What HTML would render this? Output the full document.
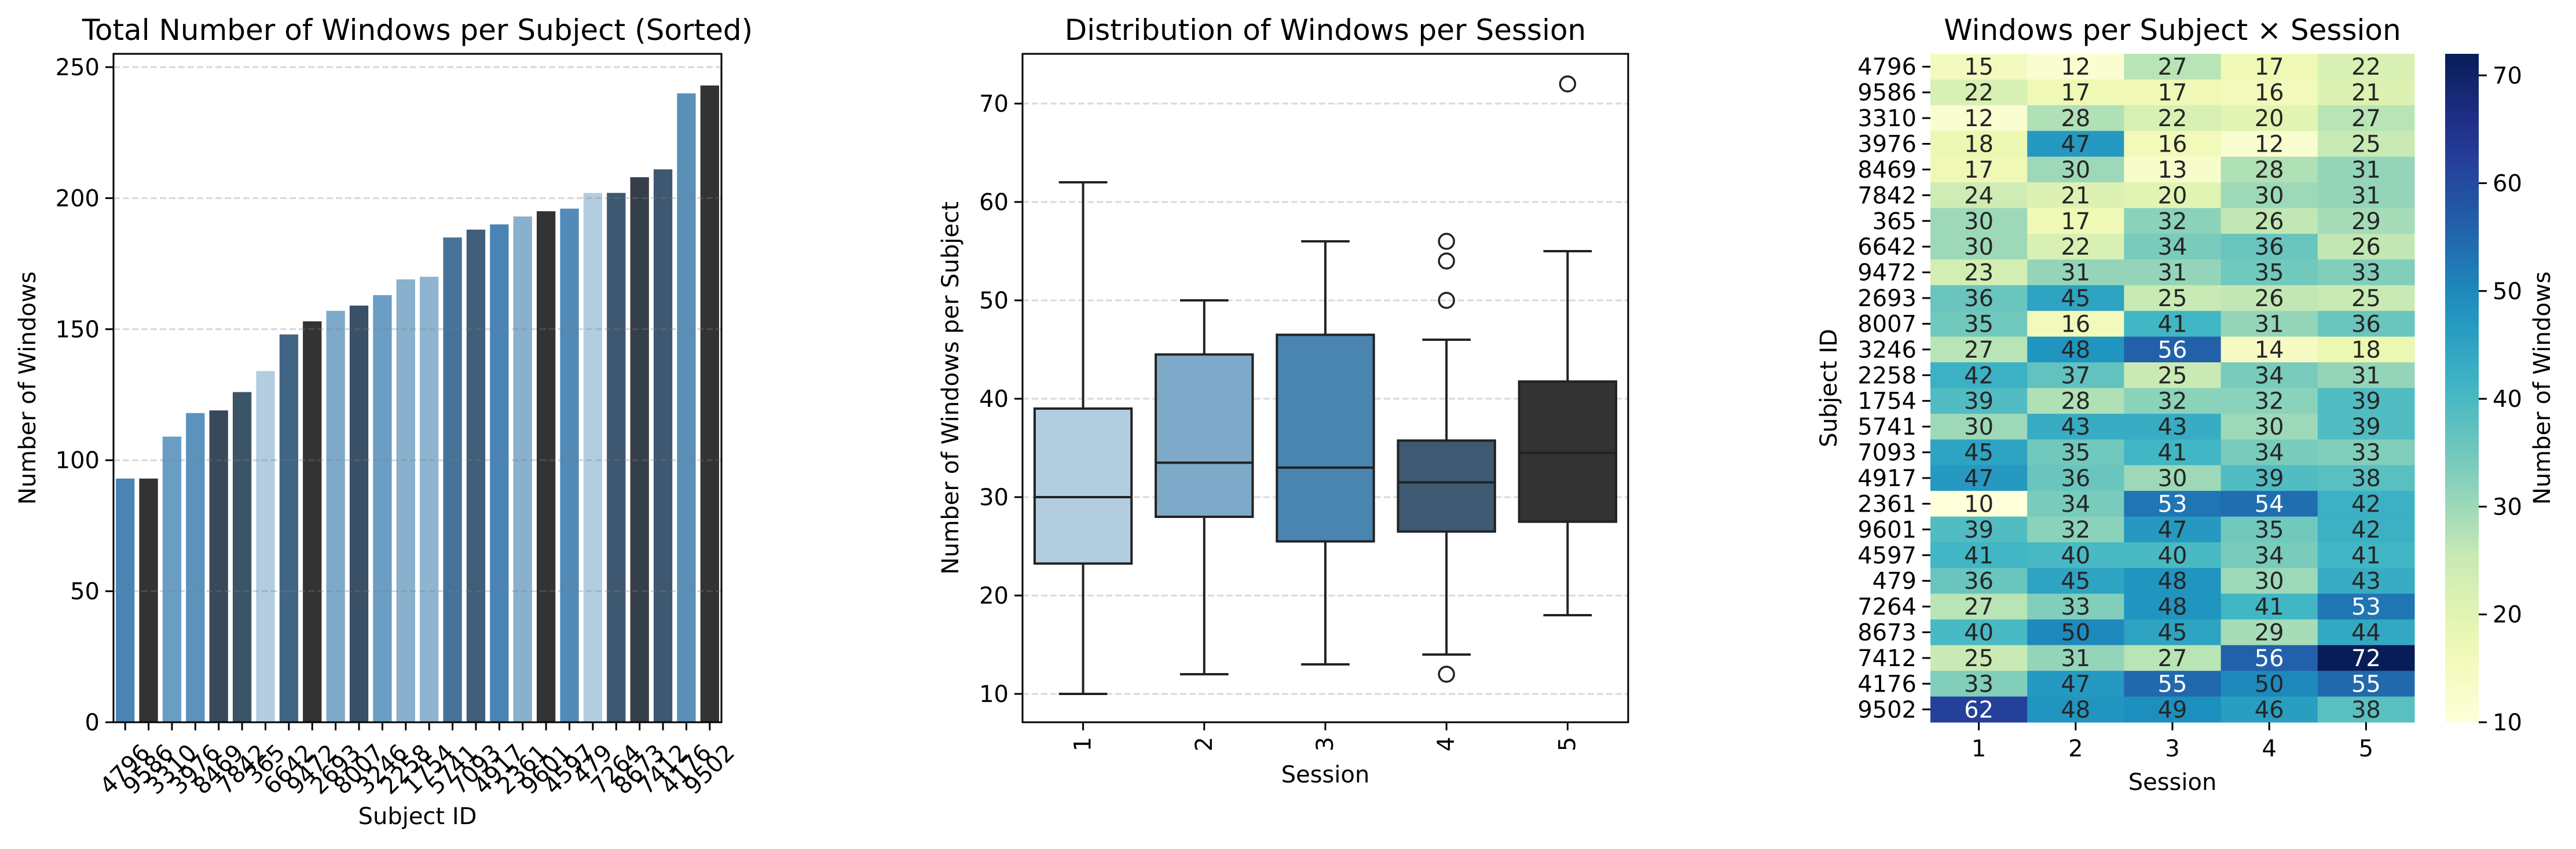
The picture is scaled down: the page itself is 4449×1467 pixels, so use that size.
<!DOCTYPE html>
<html><head><meta charset="utf-8"><style>
html,body{margin:0;padding:0;background:#fff;}
svg{display:block;font-family:"DejaVu Sans","Liberation Sans",sans-serif;}
</style></head><body>
<svg id="fig" xmlns="http://www.w3.org/2000/svg" width="4449" height="1467" viewBox="0 0 4449 1467">
<rect width="4449" height="1467" fill="#fff"/>
<g id="bar-chart"></g>
<g id="box-chart"></g>
<g id="heat-chart"></g>
</svg>
<script>
// ---------- Data ----------
const subjects = ["4796","9586","3310","3976","8469","7842","365","6642","9472","2693","8007","3246","2258","1754","5741","7093","4917","2361","9601","4597","479","7264","8673","7412","4176","9502"];
const totals = [93,93,109,118,119,126,134,148,153,157,159,163,169,170,185,188,190,193,195,196,202,202,208,211,240,243];
const barColors = ["#4a84b4","#333333","#6a9dc4","#5a93bc","#37495a","#3b5568","#b3cde0","#416585","#333333","#7ea9c9","#395066","#6b9ec4","#89b0cc","#8fb4d0","#457298","#3f5e79","#4a84b4","#89b0cc","#333333","#528ab8","#b3cde0","#3d5870","#363f49","#3d5870","#5a90b8","#333333"];
const barTicks = [0,50,100,150,200,250];

const sessions = ["1","2","3","4","5"];
const boxQ1 = [23.25,28,25.5,26.5,27.5];
const boxMedian = [30,33.5,33,31.5,34.5];
const boxQ3 = [39,44.5,46.5,35.75,41.75];
const whiskerLow = [10,12,13,14,18];
const whiskerHigh = [62,50,56,46,55];
const outliers = [[],[],[],[56,54,50,12],[72]];
const boxColors = ["#b3cde0","#7fa9c8","#4a84b0","#3d5a72","#333333"];
const boxTicks = [10,20,30,40,50,60,70];

const heatValues = [
[15,12,27,17,22],[22,17,17,16,21],[12,28,22,20,27],[18,47,16,12,25],[17,30,13,28,31],
[24,21,20,30,31],[30,17,32,26,29],[30,22,34,36,26],[23,31,31,35,33],[36,45,25,26,25],
[35,16,41,31,36],[27,48,56,14,18],[42,37,25,34,31],[39,28,32,32,39],[30,43,43,30,39],
[45,35,41,34,33],[47,36,30,39,38],[10,34,53,54,42],[39,32,47,35,42],[41,40,40,34,41],
[36,45,48,30,43],[27,33,48,41,53],[40,50,45,29,44],[25,31,27,56,72],[33,47,55,50,55],
[62,48,49,46,38]];
const cbarTicks = [10,20,30,40,50,60,70];

// ---------- helpers ----------
const NS="http://www.w3.org/2000/svg";
function mk(parent, tag, attrs, text){
  const e=document.createElementNS(NS,tag);
  for(const k in attrs) e.setAttribute(k,attrs[k]);
  if(text!==undefined) e.textContent=text;
  parent.appendChild(e); return e;
}
const FS=40;

// ---------- Bar chart ----------
(function(){
  const g=document.getElementById('bar-chart');
  const L=196,R=1246,T=93,B=1248;
  const yMax=(B-T)/((B-116)/250);
  const y=v=>B-(v/yMax)*(B-T);
  const bw=(R-L)/subjects.length;
  const x=i=>L+bw*(i+0.5);
  // grid
  barTicks.forEach(t=>{
    const tk=mk(g,'line',{x1:L-14,x2:L,y1:y(t),y2:y(t),stroke:'#000','stroke-width':3});
    
    
    const lb=mk(g,'text',{x:L-24,y:y(t)+14,'font-size':FS,'text-anchor':'end',fill:'#000'},String(t));
    
    
  });
  subjects.forEach((s,i)=>{
    const r=mk(g,'rect',{x:x(i)-bw*0.4,y:y(totals[i]),width:bw*0.8,height:B-y(totals[i]),fill:barColors[i]});
    
    
    const tk=mk(g,'line',{x1:x(i),x2:x(i),y1:B,y2:B+14,stroke:'#000','stroke-width':3});
    
    
    const w=s.length*25.5, h=30;
    const half=(w*0.707+h*0.707)/2;
    const cy=1283+half, cx=x(i);
    const lb=mk(g,'text',{x:cx,y:cy,'font-size':FS,'text-anchor':'middle','dominant-baseline':'central',transform:`rotate(-45 ${cx} ${cy})`},s);
    
    
  });
  barTicks.forEach(t=>{
    const gl=mk(g,'line',{x1:L,x2:R,y1:y(t),y2:y(t),stroke:'rgba(128,128,128,0.32)','stroke-width':3,'stroke-dasharray':'11,5'});
    
    
  });
  const fr=mk(g,'rect',{x:L,y:T,width:R-L,height:B-T,fill:'none',stroke:'#000','stroke-width':3});
  
  
  const ti=mk(g,'text',{x:(L+R)/2,y:69,'font-size':50,'text-anchor':'middle'},'Total Number of Windows per Subject (Sorted)');
  
  
  const xl=mk(g,'text',{x:(L+R)/2,y:1424,'font-size':FS,'text-anchor':'middle'},'Subject ID');
  
  
  const yl=mk(g,'text',{x:0,y:0,'font-size':FS,'text-anchor':'middle',transform:`translate(61 ${(T+B)/2}) rotate(-90)`},'Number of Windows');
  
  
})();

// ---------- Box chart ----------
(function(){
  const g=document.getElementById('box-chart');
  const L=1766,R=2812,T=93,B=1248;
  const per=170/10; // px per unit
  const y=v=>179-(v-70)*per;
  const bw=(R-L)/sessions.length;
  const x=i=>L+bw*(i+0.5);
  boxTicks.forEach(t=>{
    const gl=mk(g,'line',{x1:L,x2:R,y1:y(t),y2:y(t),stroke:'#d9d9d9','stroke-width':3,'stroke-dasharray':'11,5'});
    
    
    const tk=mk(g,'line',{x1:L-14,x2:L,y1:y(t),y2:y(t),stroke:'#000','stroke-width':3});
    
    
    const lb=mk(g,'text',{x:L-24,y:y(t)+14,'font-size':FS,'text-anchor':'end'},String(t));
    
    
  });
  sessions.forEach((s,i)=>{
    const cx=x(i), hw=bw*0.4, cw=bw*0.2;
    const st={stroke:'#222','stroke-width':4};
    const w1=mk(g,'line',Object.assign({x1:cx,x2:cx,y1:y(boxQ3[i]),y2:y(whiskerHigh[i])},st));
    
    
    const w2=mk(g,'line',Object.assign({x1:cx,x2:cx,y1:y(boxQ1[i]),y2:y(whiskerLow[i])},st));
    
    
    const c1=mk(g,'line',Object.assign({x1:cx-cw,x2:cx+cw,y1:y(whiskerHigh[i]),y2:y(whiskerHigh[i])},st));
    
    
    const c2=mk(g,'line',Object.assign({x1:cx-cw,x2:cx+cw,y1:y(whiskerLow[i]),y2:y(whiskerLow[i])},st));
    
    
    const bx=mk(g,'rect',Object.assign({x:cx-hw,y:y(boxQ3[i]),width:2*hw,height:y(boxQ1[i])-y(boxQ3[i]),fill:boxColors[i]},st));
    
    
    const md=mk(g,'line',Object.assign({x1:cx-hw,x2:cx+hw,y1:y(boxMedian[i]),y2:y(boxMedian[i])},st));
    
    
    outliers[i].forEach(o=>{
      const c=mk(g,'circle',{cx:cx,cy:y(o),r:13,fill:'none',stroke:'#222','stroke-width':3.5});
      
      
    });
    const tk=mk(g,'line',{x1:cx,x2:cx,y1:B,y2:B+14,stroke:'#000','stroke-width':3});
    
    
    const lb=mk(g,'text',{x:0,y:0,'font-size':FS,'text-anchor':'end','dominant-baseline':'central',transform:`translate(${cx} 1273) rotate(-90)`},s);
    
    
  });
  const fr=mk(g,'rect',{x:L,y:T,width:R-L,height:B-T,fill:'none',stroke:'#000','stroke-width':3});
  
  
  const ti=mk(g,'text',{x:(L+R)/2,y:69,'font-size':50,'text-anchor':'middle'},'Distribution of Windows per Session');
  
  
  const xl=mk(g,'text',{x:(L+R)/2,y:1352,'font-size':FS,'text-anchor':'middle'},'Session');
  
  
  const yl=mk(g,'text',{x:0,y:0,'font-size':FS,'text-anchor':'middle',transform:`translate(1655 ${(T+B)/2}) rotate(-90)`},'Number of Windows per Subject');
  
  
})();

// ---------- Heatmap ----------
(function(){
  const g=document.getElementById('heat-chart');
  const L=3334,R=4170,T=93,B=1248;
  const vmin=10,vmax=72;
  const stops=["#ffffd9","#edf8b1","#c7e9b4","#7fcdbb","#41b6c4","#1d91c0","#225ea8","#253494","#081d58"].map(h=>[parseInt(h.substr(1,2),16),parseInt(h.substr(3,2),16),parseInt(h.substr(5,2),16)]);
  function cmap(v){
    let t=(v-vmin)/(vmax-vmin); t=Math.max(0,Math.min(1,t));
    const p=t*8, i=Math.min(7,Math.floor(p)), f=p-i;
    const c=stops[i].map((a,k)=>Math.round(a+(stops[i+1][k]-a)*f));
    return c;
  }
  const rgb=c=>`rgb(${c[0]},${c[1]},${c[2]})`;
  const cw=(R-L)/sessions.length, rh=(B-T)/subjects.length;
  heatValues.forEach((row,r)=>{
    row.forEach((v,c)=>{
      const col=cmap(v);
      const cell=mk(g,'rect',{x:L+c*cw,y:T+r*rh,width:cw+0.5,height:rh+0.5,fill:rgb(col)});
      
      
      const lum=(0.2126*col[0]+0.7152*col[1]+0.0722*col[2])/255;
      const t=mk(g,'text',{x:L+(c+0.5)*cw,y:T+(r+0.5)*rh+14,'font-size':FS,'text-anchor':'middle',fill:lum>0.42?'#262626':'#ffffff'},String(v));
      
      
    });
    const yc=T+(r+0.5)*rh;
    const tk=mk(g,'line',{x1:L-14,x2:L,y1:yc,y2:yc,stroke:'#000','stroke-width':3});
    
    
    const lb=mk(g,'text',{x:L-24,y:yc+14,'font-size':FS,'text-anchor':'end'},subjects[r]);
    
    
  });
  sessions.forEach((s,c)=>{
    const xc=L+(c+0.5)*cw;
    const tk=mk(g,'line',{x1:xc,x2:xc,y1:B,y2:B+14,stroke:'#000','stroke-width':3});
    
    
    const lb=mk(g,'text',{x:xc,y:1307,'font-size':FS,'text-anchor':'middle'},s);
    
    
  });
  // colorbar
  const CL=4223,CR=4281;
  const defs=mk(g,'defs',{});
  const lg=mk(defs,'linearGradient',{id:'cbg',x1:0,y1:1,x2:0,y2:0});
  for(let k=0;k<=20;k++){const v=vmin+(vmax-vmin)*k/20;mk(lg,'stop',{offset:(k/20),'stop-color':rgb(cmap(v))});}
  const cb=mk(g,'rect',{x:CL,y:T,width:CR-CL,height:B-T,fill:'url(#cbg)'});
  
  
  const cy=v=>B-(v-vmin)/(vmax-vmin)*(B-T);
  cbarTicks.forEach(t=>{
    const tk=mk(g,'line',{x1:CR,x2:CR+14,y1:cy(t),y2:cy(t),stroke:'#000','stroke-width':3});
    
    
    const lb=mk(g,'text',{x:CR+24,y:cy(t)+14,'font-size':FS},String(t));
    
    
  });
  const cl=mk(g,'text',{x:0,y:0,'font-size':FS,'text-anchor':'middle',transform:`translate(4404 ${(T+B)/2}) rotate(-90)`},'Number of Windows');
  
  
  const ti=mk(g,'text',{x:(L+R)/2,y:69,'font-size':50,'text-anchor':'middle'},'Windows per Subject × Session');
  
  
  const xl=mk(g,'text',{x:(L+R)/2,y:1365,'font-size':FS,'text-anchor':'middle'},'Session');
  
  
  const yl=mk(g,'text',{x:0,y:0,'font-size':FS,'text-anchor':'middle',transform:`translate(3172 ${(T+B)/2}) rotate(-90)`},'Subject ID');
  
  
})();
</script>
</body></html>
